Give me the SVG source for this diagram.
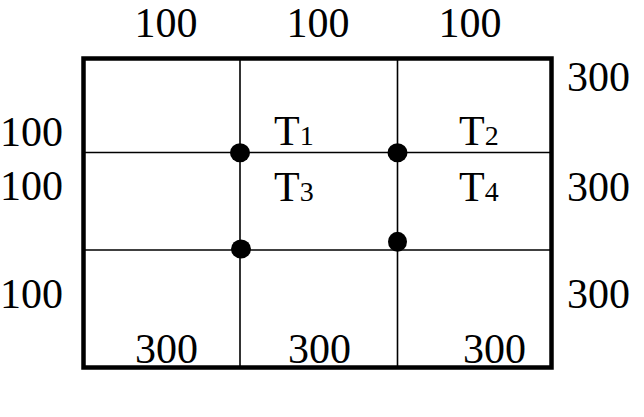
<svg xmlns="http://www.w3.org/2000/svg" width="644" height="417" viewBox="0 0 644 417">
<style>
text{font-family:"Liberation Serif","Times New Roman",serif;fill:#000}
.n{font-size:42px}
.t{font-size:42px}
.s{font-size:28px}
.thin{stroke:#000;stroke-width:1.6;fill:none}
</style>
<rect width="644" height="417" fill="#fff"/>
<g id="grid">
<rect x="83.5" y="58.5" width="468" height="309" fill="none" stroke="#000" stroke-width="4.5"/>
</g>
<g id="connectors">
<line class="thin" x1="240" y1="58" x2="240" y2="368"/>
<line class="thin" x1="397.5" y1="58" x2="397.5" y2="368"/>
<line class="thin" x1="83" y1="152.5" x2="552" y2="152.5"/>
<line class="thin" x1="83" y1="250" x2="552" y2="250"/>
</g>
<g id="nodes">
<ellipse id="n1" cx="240" cy="152.7" rx="10" ry="9.5"/>
<ellipse id="n2" cx="397.5" cy="152.7" rx="10" ry="9.5"/>
<ellipse id="n3" cx="241" cy="249" rx="10" ry="9.5"/>
<ellipse id="n4" cx="397.5" cy="241.7" rx="9.5" ry="10"/>
</g>
<g id="labels">
<text class="n" x="166" y="37" text-anchor="middle">100</text>
<text class="n" x="318" y="37" text-anchor="middle">100</text>
<text class="n" x="470" y="37" text-anchor="middle">100</text>
<text class="n" x="0" y="146">100</text>
<text class="n" x="0" y="200">100</text>
<text class="n" x="0" y="308">100</text>
<text class="n" x="567" y="91">300</text>
<text class="n" x="567" y="201">300</text>
<text class="n" x="567" y="308">300</text>
<text class="n" x="135" y="363">300</text>
<text class="n" x="288" y="363">300</text>
<text class="n" x="463" y="363">300</text>
<text class="t" x="274" y="145">T<tspan class="s">1</tspan></text>
<text class="t" x="459" y="145">T<tspan class="s">2</tspan></text>
<text class="t" x="274" y="201">T<tspan class="s">3</tspan></text>
<text class="t" x="459" y="201">T<tspan class="s">4</tspan></text>
</g>
</svg>
